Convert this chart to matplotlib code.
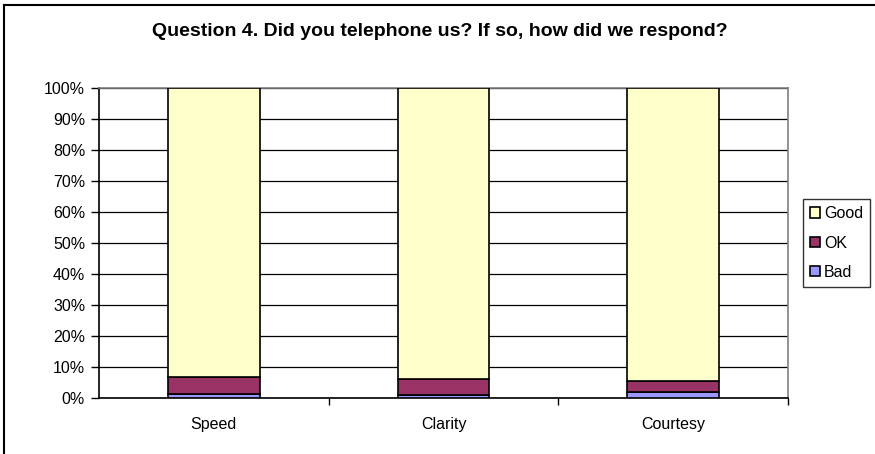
import matplotlib.pyplot as plt
import numpy as np
from matplotlib.lines import Line2D

plt.rcParams['font.family'] = ['Liberation Sans', 'DejaVu Sans']

# Survey answers, percent of responses
categories = ['Speed', 'Clarity', 'Courtesy']
bad = [1.0, 0.9, 1.8]
ok = [5.5, 5.1, 3.6]
good = [93.5, 94.0, 94.6]

W, H = 875, 454
fig = plt.figure(figsize=(W / 100, H / 100), dpi=100)

# outer chart frame (left and top edges)
fig.add_artist(Line2D([4 / W, 4 / W], [0, 1 - 5 / H], color='black', lw=1.5))
fig.add_artist(Line2D([4 / W, 1], [1 - 5 / H, 1 - 5 / H], color='black', lw=1.5))

left, right, top, bottom = 99, 788, 88, 397.5
ax = fig.add_axes([left / W, 1 - bottom / H, (right - left) / W, (bottom - top) / H])

x = np.arange(len(categories))
bw = 0.4
kw = dict(width=bw, edgecolor='black', linewidth=1.2, zorder=3)
ax.bar(x, bad, color='#9999FF', label='Bad', **kw)
ax.bar(x, ok, bottom=bad, color='#993366', label='OK', **kw)
ax.bar(x, good, bottom=np.add(bad, ok), color='#FFFFCC', label='Good', **kw)

ax.set_xlim(-0.5, len(categories) - 0.5)
ax.set_ylim(0, 100)
ax.set_yticks(np.arange(0, 101, 10))
ax.set_yticklabels([f'{v}%' for v in range(0, 101, 10)], fontsize=11.5)
ax.yaxis.grid(True, color='black', lw=0.9, zorder=0)

ax.set_xticks(x)
ax.set_xticklabels(categories, fontsize=11.5)
ax.tick_params(axis='x', length=0, pad=14)
ax.set_xticks(np.arange(0.5, len(categories), 1), minor=True)
ax.tick_params(axis='x', which='minor', length=5, direction='out', width=1)
ax.tick_params(axis='y', length=6, direction='out', width=1, pad=4)

for side in ('top', 'right'):
    ax.spines[side].set_color('#808080')
    ax.spines[side].set_linewidth(1.2)
for side in ('left', 'bottom'):
    ax.spines[side].set_color('black')
    ax.spines[side].set_linewidth(1.2)

fig.text(440 / W, 1 - 31 / H, 'Question 4. Did you telephone us? If so, how did we respond?',
         ha='center', va='center', fontsize=14, fontweight='bold')

handles, labels = ax.get_legend_handles_labels()
leg = fig.legend(handles[::-1], labels[::-1], loc='upper left',
                 bbox_to_anchor=(803 / W, 1 - 199 / H), fontsize=11.5,
                 frameon=True, fancybox=False, edgecolor='black',
                 handlelength=0.6, handleheight=0.6, handletextpad=0.25,
                 labelspacing=0.9, borderpad=0.45, borderaxespad=0)
leg.get_frame().set_linewidth(1)

fig.savefig('out.png', dpi=100)
